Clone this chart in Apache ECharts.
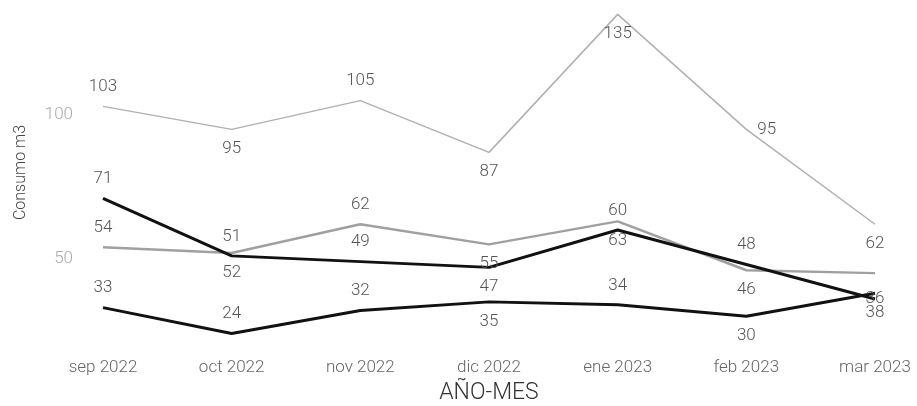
<!DOCTYPE html>
<html>
<head>
<meta charset="utf-8">
<script src="https://cdn.jsdelivr.net/npm/echarts@6/dist/echarts.min.js"></script>
<style>
html,body{margin:0;padding:0;background:#fff;}
#c{width:917px;height:406px;}
</style>
</head>
<body>
<div id="c"></div>
<script>
const categories = ['sep 2022','oct 2022','nov 2022','dic 2022','ene 2023','feb 2023','mar 2023'];
const serieA = [103, 95, 105, 87, 135, 95, 62];
const serieB = [71, 51, 49, 47, 60, 48, 36];
const serieC = [54, 52, 62, 55, 63, 46, 45];
const serieD = [33, 24, 32, 35, 34, 30, 38];
const yTicks = [50, 100];

// label placement per point (not data)
const placeA = ['top','bottom','top','bottom','bottom','right','bottom'];
const placeB = ['top','top','top','bottom','top','top','inside'];
const placeC = ['top','bottom','top','bottom','bottom','bottom',null];
const placeD = ['top','top','top','bottom','top','bottom','bottom'];

function build(values, place) {
  return values.map((v, i) => {
    const p = place[i];
    if (!p) return { value: v, label: { show: false } };
    return { value: v, label: { position: p } };
  });
}

const FONT = 'Roboto';
const labelStyle = { show: true, color: '#555', fontSize: 17, fontFamily: FONT, fontWeight: 300, distance: 11 };

function line(name, values, place, color, width) {
  return {
    name: name, type: 'line', data: build(values, place),
    symbol: 'circle', symbolSize: 0, showSymbol: true,
    lineStyle: { color: color, width: width },
    itemStyle: { color: color },
    label: labelStyle,
    emphasis: { disabled: true }
  };
}

const chart = echarts.init(document.getElementById('c'));
chart.setOption({
  animation: false,
  grid: { left: 103, right: 42, top: 0, bottom: 61, containLabel: false, outerBoundsMode: 'none' },
  xAxis: {
    type: 'category',
    data: categories,
    boundaryGap: false,
    axisLine: { show: false },
    axisTick: { show: false },
    axisLabel: { color: '#666', fontSize: 17, fontFamily: FONT, fontWeight: 300, margin: 14 },
    name: 'AÑO-MES',
    nameLocation: 'middle',
    nameGap: 37,
    nameTextStyle: { color: '#333', fontSize: 23, fontFamily: FONT, fontWeight: 300 }
  },
  yAxis: {
    type: 'value',
    min: 20,
    max: 140,
    splitLine: { show: false },
    axisLine: { show: false },
    axisTick: { show: false },
    axisLabel: { color: '#aaa', fontSize: 17, fontFamily: FONT, fontWeight: 300, margin: 30, customValues: yTicks },
    name: 'Consumo m3',
    nameLocation: 'middle',
    nameGap: 74,
    nameTextStyle: { color: '#444', fontSize: 16, fontFamily: FONT, fontWeight: 300 }
  },
  series: [
    line('A', serieA, placeA, '#b0b0b0', 1.5),
    line('C', serieC, placeC, '#a0a0a0', 2.5),
    line('B', serieB, placeB, '#111', 3),
    line('D', serieD, placeD, '#111', 3)
  ]
});
</script>
</body>
</html>
